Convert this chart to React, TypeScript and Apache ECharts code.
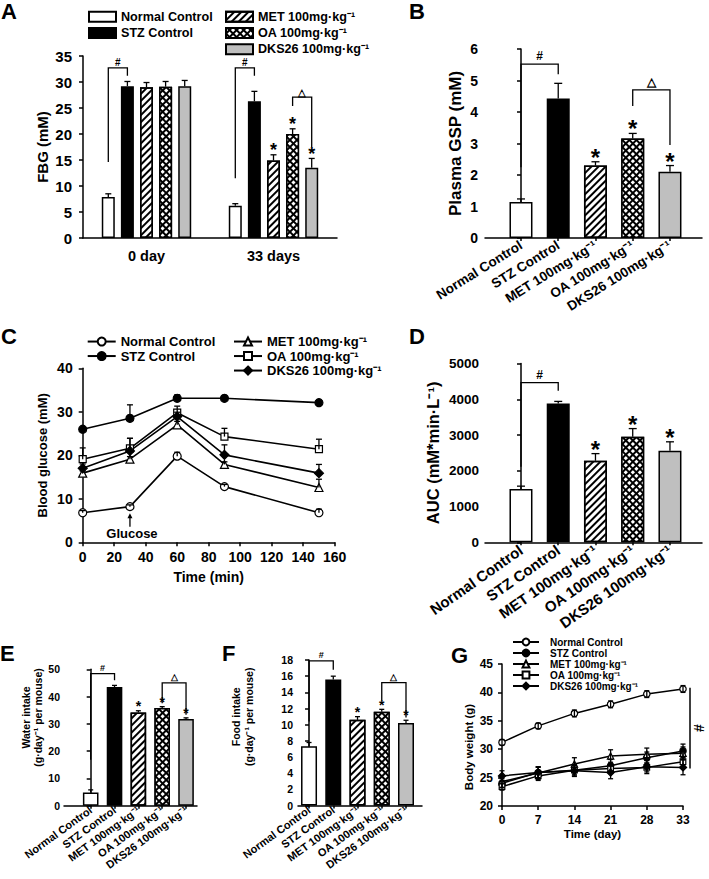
import React, { useEffect, useRef } from 'react';
import * as echarts from 'echarts';

const FONT = "'Liberation Sans', Arial, Helvetica, sans-serif";
const BLACK = '#000000';

// ---------- shared categories ----------
const groupNames = ['Normal Control', 'STZ Control', 'MET 100mg·kg⁻¹', 'OA 100mg·kg⁻¹', 'DKS26 100mg·kg⁻¹'];

// ---------- Panel A : FBG (mM) ----------
const aDays = ['0 day', '33 days'];
const aNormal = [7.9, 6.2];
const aSTZ = [29.2, 26.3];
const aMET = [29.0, 14.9];
const aOA = [29.1, 20.0];
const aDKS = [29.2, 13.5];
const aNormalErr = [0.6, 0.4];
const aSTZErr = [0.9, 1.9];
const aMETErr = [0.9, 1.1];
const aOAErr = [1.0, 1.0];
const aDKSErr = [1.1, 1.8];
const aStars = [[1, 2], [1, 3], [1, 4]]; // [day index, group index]
const aBrackets = [
  { base: 0, from: 0, to: 1, yFrom: 14.6, yTo: 31.2, yTop: 32.7, mark: '#' },
  { base: 1, from: 0, to: 1, yFrom: 11.5, yTo: 31.2, yTop: 32.7, mark: '#' },
  { base: 1, from: 3, to: 4, yFrom: 25.4, yTo: 17.5, yTop: 27.1, mark: '△' },
];

// ---------- Panel B : Plasma GSP (mM) ----------
const bGSP = [1.14, 4.43, 2.3, 3.16, 2.1];
const bErr = [0.1, 0.48, 0.12, 0.16, 0.2];
const bStars = [2, 3, 4];
const bBrackets = [
  { from: 0, to: 1, yFrom: 2.25, yTo: 5.2, yTop: 5.52, mark: '#' },
  { from: 3, to: 4, yFrom: 4.19, yTo: 2.95, yTop: 4.7, mark: '△' },
];

// ---------- Panel C : Blood glucose (mM) ----------
const cTimes = [0, 30, 60, 90, 150];
const cNormal = [6.8, 8.2, 19.8, 12.8, 6.8];
const cSTZ = [26.0, 28.5, 33.1, 33.1, 32.1];
const cMET = [15.9, 19.1, 27.0, 17.9, 12.6];
const cOA = [19.1, 21.6, 29.8, 24.3, 21.4];
const cDKS = [17.0, 21.0, 28.9, 20.1, 15.9];
const cNormalErr = [0.5, 0.4, 0.9, 0.5, 0.8];
const cSTZErr = [0, 3.1, 0.8, 0.6, 0.6];
const cMETErr = [0.5, 0.6, 0.8, 0.6, 1.9];
const cOAErr = [2.6, 2.3, 1.5, 1.9, 2.3];
const cDKSErr = [1.0, 2.9, 1.0, 2.3, 2.0];
const cGlucose = { time: 30, arrowFrom: 3.6, arrowTo: 6.7, textAt: 2.1, label: 'Glucose' };

// ---------- Panel D : AUC ----------
const dAUC = [1490, 3880, 2280, 2950, 2560];
const dErr = [80, 60, 200, 230, 250];
const dStars = [2, 3, 4];
const dBrackets = [{ from: 0, to: 1, yFrom: 2115, yTo: 4241, yTop: 4464, mark: '#' }];

// ---------- Panel E : Water intake ----------
const eWater = [4.8, 43.5, 34.2, 35.8, 31.8];
const eErr = [1.0, 0.6, 0.6, 0.5, 0.4];
const eStars = [2, 3, 4];
const eBrackets = [
  { from: 0, to: 1, yFrom: 16.8, yTo: 46.0, yTop: 48.4, mark: '#' },
  { from: 3, to: 4, yFrom: 37.6, yTo: 33.3, yTop: 45.0, mark: '△' },
];

// ---------- Panel F : Food intake ----------
const fFood = [7.35, 15.6, 10.6, 11.6, 10.2];
const fErr = [0.45, 0.4, 0.4, 0.3, 0.35];
const fStars = [2, 3, 4];
const fBrackets = [
  { from: 0, to: 1, yFrom: 10.4, yTo: 16.8, yTop: 17.9, mark: '#' },
  { from: 3, to: 4, yFrom: 13.0, yTo: 10.9, yTop: 15.2, mark: '△' },
];

// ---------- Panel G : Body weight ----------
const gDays = ['0', '7', '14', '21', '28', '33'];
const gNormal = [31.2, 34.1, 36.3, 37.9, 39.7, 40.6];
const gSTZ = [24.0, 25.9, 26.3, 27.1, 28.5, 29.7];
const gMET = [24.3, 25.8, 27.4, 28.8, 29.1, 29.3];
const gOA = [23.4, 25.3, 26.3, 26.6, 26.8, 27.8];
const gDKS = [25.3, 25.9, 26.2, 25.9, 26.9, 26.8];
const gNormalErr = [0.5, 0.5, 0.6, 0.6, 0.6, 0.6];
const gSTZErr = [0.8, 1.0, 1.0, 1.1, 1.0, 1.2];
const gMETErr = [1.0, 1.1, 1.1, 1.1, 1.1, 1.1];
const gOAErr = [0.6, 0.8, 0.8, 0.8, 0.8, 0.8];
const gDKSErr = [0.9, 0.9, 1.0, 1.1, 1.2, 1.3];
const gSignif = { day: 5, from: 26.6, to: 40.8, mark: '#' };

// ---------- styles & layout ----------
const barStyles: any[] = [
  { color: '#ffffff', borderColor: BLACK, borderWidth: 1.5 },
  { color: '#000000', borderColor: BLACK, borderWidth: 1.5 },
  {
    color: '#ffffff', borderColor: BLACK, borderWidth: 1.5,
    decal: { symbol: 'rect', symbolSize: 1, color: '#000000', dashArrayX: [1, 0], dashArrayY: [2, 3], rotation: -Math.PI / 4 },
  },
  {
    color: '#000000', borderColor: BLACK, borderWidth: 1.5,
    decal: { symbol: 'rect', symbolSize: 1, color: '#ffffff', dashArrayX: [3, 2], dashArrayY: [3, 2], rotation: Math.PI / 4 },
  },
  { color: '#bfbfbf', borderColor: BLACK, borderWidth: 1.5 },
];
const markers = [
  { symbol: 'circle', fill: '#ffffff', size: 8 },
  { symbol: 'circle', fill: '#000000', size: 8 },
  { symbol: 'triangle', fill: '#ffffff', size: 8 },
  { symbol: 'rect', fill: '#ffffff', size: 7 },
  { symbol: 'diamond', fill: '#000000', size: 9 },
];

const GRIDS = [
  { left: 83, top: 56, width: 254, height: 182 }, // A
  { left: 485, top: 49, width: 217, height: 189 }, // B
  { left: 82.7, top: 368.3, width: 252, height: 174 }, // C
  { left: 485, top: 363.5, width: 217, height: 178.8 }, // D
  { left: 64, top: 669.3, width: 133, height: 136.4 }, // E
  { left: 298, top: 660, width: 124, height: 145.6 }, // F
  { left: 502, top: 664, width: 181, height: 142 }, // G
];
const A_SLOT = 19.1;

const txt = (size: number) => ({ fontFamily: FONT, fontWeight: 'bold' as const, fontSize: size, color: BLACK });
const line15 = { color: BLACK, width: 1.5 };
const idx5 = [0, 1, 2, 3, 4];
const plain = (v: number) => String(v);

function yValue(grid: number, min: number, max: number, interval: number, labelSize: number, margin: number,
  name: string, nameSize: number, nameGap: number, nameLH?: number, namePad?: number[]) {
  return {
    type: 'value', gridIndex: grid, min, max, interval,
    axisLine: { show: true, lineStyle: line15 },
    axisTick: { show: true, inside: false, length: 4, lineStyle: line15 },
    axisLabel: { ...txt(labelSize), margin, formatter: plain },
    splitLine: { show: false },
    name, nameLocation: 'middle', nameRotate: 90, nameGap,
    nameTextStyle: { ...txt(nameSize), lineHeight: nameLH ?? Math.round(nameSize * 1.15), padding: namePad ?? 0 },
  };
}

function xGroups(grid: number, min: number, max: number, labelSize: number, rotate: number, margin: number) {
  return {
    type: 'value', gridIndex: grid, min, max,
    axisLine: { show: true, lineStyle: line15 },
    axisTick: { show: true, length: 3, lineStyle: line15, customValues: idx5 },
    axisLabel: {
      ...txt(labelSize), rotate, margin, customValues: idx5,
      formatter: (v: number) => groupNames[Math.round(v)] ?? '',
    },
    splitLine: { show: false },
  };
}

function errorSeries(grid: number, data: number[][], capHalf: number, symmetric: boolean, slotPx = 0) {
  return {
    type: 'custom', xAxisIndex: grid, yAxisIndex: grid, z: 4, silent: true, data,
    renderItem: (_p: any, api: any) => {
      const x = api.value(0), y = api.value(1), e = api.value(2);
      const dx = slotPx ? (api.value(3) - 2) * slotPx : 0;
      const top = api.coord([x, y + e]);
      const bot = api.coord([x, symmetric ? y - e : y]);
      const cx = top[0] + dx;
      const st = { stroke: BLACK, lineWidth: 1.3 };
      const ch: any[] = [
        { type: 'line', shape: { x1: cx, y1: bot[1], x2: cx, y2: top[1] }, style: st },
        { type: 'line', shape: { x1: cx - capHalf, y1: top[1], x2: cx + capHalf, y2: top[1] }, style: st },
      ];
      if (symmetric) ch.push({ type: 'line', shape: { x1: cx - capHalf, y1: bot[1], x2: cx + capHalf, y2: bot[1] }, style: st });
      return { type: 'group', children: ch };
    },
  };
}

function starSeries(grid: number, data: number[][], fontSize: number, gapPx: number, slotPx = 0) {
  return {
    type: 'custom', xAxisIndex: grid, yAxisIndex: grid, z: 5, silent: true, data,
    renderItem: (_p: any, api: any) => {
      const pt = api.coord([api.value(0), api.value(1)]);
      const dx = slotPx ? (api.value(2) - 2) * slotPx : 0;
      return {
        type: 'text', x: pt[0] + dx, y: pt[1] - gapPx,
        style: { text: '*', fill: BLACK, fontFamily: FONT, fontWeight: 'bold', fontSize, align: 'center', verticalAlign: 'middle' },
      };
    },
  };
}

function bracketSeries(grid: number, brackets: any[], markSize: number, markGap: number, slotPx = 0) {
  return {
    type: 'custom', xAxisIndex: grid, yAxisIndex: grid, z: 5, silent: true,
    data: brackets.map((b) => [slotPx ? b.base : b.from, b.yFrom, b.to, b.yTo, b.yTop]),
    renderItem: (p: any, api: any) => {
      const b = brackets[p.dataIndex];
      const xOf = (which: number) => {
        if (slotPx) return api.coord([b.base, 0])[0] + (which - 2) * slotPx;
        return api.coord([which, 0])[0];
      };
      const x1 = xOf(b.from), x2 = xOf(b.to);
      const yF = api.coord([b.from, b.yFrom])[1];
      const yT = api.coord([b.from, b.yTop])[1];
      const yE = api.coord([b.from, b.yTo])[1];
      return {
        type: 'group',
        children: [
          { type: 'polyline', shape: { points: [[x1, yF], [x1, yT], [x2, yT], [x2, yE]] }, style: { stroke: BLACK, lineWidth: 1.3, fill: null } },
          {
            type: 'text', x: (x1 + x2) / 2, y: yT - markGap,
            style: { text: b.mark, fill: BLACK, fontFamily: FONT, fontWeight: 'bold', fontSize: markSize, align: 'center', verticalAlign: 'middle' },
          },
        ],
      };
    },
  };
}

function groupBarSeries(grid: number, values: number[], errs: number[], stars: number[], barWidth: number,
  capHalf: number, starSize: number, starGap: number, brackets: any[], markSize: number, markGap: number) {
  return [
    {
      type: 'bar', name: 'panel' + grid, xAxisIndex: grid, yAxisIndex: grid, barWidth, z: 2, silent: true,
      data: values.map((v, i) => ({ value: [i, v], itemStyle: barStyles[i] })),
    },
    errorSeries(grid, values.map((v, i) => [i, v, errs[i]]), capHalf, false),
    starSeries(grid, stars.map((i) => [i, values[i] + errs[i]]), starSize, starGap),
    bracketSeries(grid, brackets, markSize, markGap),
  ];
}

function lineSeries(prefix: string, grid: number, xs: (number | string)[], arrays: number[][], width: number, sizeScale: number) {
  return arrays.map((arr, i) => ({
    type: 'line', name: prefix + groupNames[i], xAxisIndex: grid, yAxisIndex: grid, z: 3, silent: true,
    data: arr.map((v, k) => [typeof xs[k] === 'number' ? xs[k] : k, v]),
    symbol: markers[i].symbol, symbolSize: markers[i].size * sizeScale, showAllSymbol: true,
    lineStyle: { color: BLACK, width },
    itemStyle: { color: markers[i].fill, borderColor: BLACK, borderWidth: 1.2 },
  }));
}

function buildOption(): any {
  const aValues = [aNormal, aSTZ, aMET, aOA, aDKS];
  const aErrors = [aNormalErr, aSTZErr, aMETErr, aOAErr, aDKSErr];
  const cValues = [cNormal, cSTZ, cMET, cOA, cDKS];
  const cErrors = [cNormalErr, cSTZErr, cMETErr, cOAErr, cDKSErr];
  const gValues = [gNormal, gSTZ, gMET, gOA, gDKS];
  const gErrors = [gNormalErr, gSTZErr, gMETErr, gOAErr, gDKSErr];

  const letters = [
    ['A', 1, 0], ['B', 409, 0], ['C', 1, 325], ['D', 409, 325], ['E', 0, 642], ['F', 222, 642], ['G', 451, 644],
  ];

  const series: any[] = [];
  // A
  aValues.forEach((vals, i) => {
    series.push({
      type: 'bar', name: groupNames[i], xAxisIndex: 0, yAxisIndex: 0, data: vals, barWidth: 13, barGap: '47%',
      itemStyle: barStyles[i], z: 2, silent: true,
    });
  });
  const aErrData: number[][] = [];
  aValues.forEach((vals, i) => vals.forEach((v, d) => aErrData.push([d, v, aErrors[i][d], i])));
  series.push(errorSeries(0, aErrData, 3, false, A_SLOT));
  series.push(starSeries(0, aStars.map(([d, i]) => [d, aValues[i][d] + aErrors[i][d], i]), 18, 4.5, A_SLOT));
  series.push(bracketSeries(0, aBrackets, 10, 5, A_SLOT));
  // B
  series.push(...groupBarSeries(1, bGSP, bErr, bStars, 23, 4, 24, 4.5, bBrackets, 12, 8));
  // C
  series.push(errorSeries(2, cValues.flatMap((arr, i) => arr.map((v, k) => [cTimes[k], v, cErrors[i][k]])), 3, false));
  series.push(...lineSeries('C:', 2, cTimes, cValues, 1.6, 1));
  series.push({
    type: 'custom', xAxisIndex: 2, yAxisIndex: 2, z: 5, silent: true,
    data: [[cGlucose.time, cGlucose.arrowFrom, cGlucose.arrowTo, cGlucose.textAt]],
    renderItem: (_p: any, api: any) => {
      const a = api.coord([api.value(0), api.value(1)]);
      const b = api.coord([api.value(0), api.value(2)]);
      const t = api.coord([api.value(0), api.value(3)]);
      return {
        type: 'group',
        children: [
          { type: 'line', shape: { x1: a[0], y1: a[1], x2: b[0], y2: b[1] + 3 }, style: { stroke: BLACK, lineWidth: 1.3 } },
          { type: 'polygon', shape: { points: [[b[0], b[1]], [b[0] - 2.5, b[1] + 5], [b[0] + 2.5, b[1] + 5]] }, style: { fill: BLACK } },
          { type: 'text', x: t[0] + 2, y: t[1], style: { text: cGlucose.label, fill: BLACK, fontFamily: FONT, fontWeight: 'bold', fontSize: 13, align: 'center', verticalAlign: 'middle' } },
        ],
      };
    },
  });
  // D
  series.push(...groupBarSeries(3, dAUC, dErr, dStars, 23, 4, 24, 4.5, dBrackets, 12, 8));
  // E
  series.push(...groupBarSeries(4, eWater, eErr, eStars, 15.6, 2.5, 14, 4.8, eBrackets, 9, 6));
  // F
  series.push(...groupBarSeries(5, fFood, fErr, fStars, 16, 2.5, 14, 4.8, fBrackets, 9, 6));
  // G
  series.push(errorSeries(6, gValues.flatMap((arr, i) => arr.map((v, k) => [k, v, gErrors[i][k]])), 2.5, true));
  series.push(...lineSeries('G:', 6, gDays, gValues, 1.5, 0.8));
  series.push({
    type: 'custom', xAxisIndex: 6, yAxisIndex: 6, z: 5, silent: true,
    data: [[gSignif.day, gSignif.from, gSignif.to]],
    renderItem: (_p: any, api: any) => {
      const a = api.coord([api.value(0), api.value(1)]);
      const b = api.coord([api.value(0), api.value(2)]);
      const x = a[0] + 7;
      return {
        type: 'group',
        children: [
          { type: 'line', shape: { x1: x, y1: a[1], x2: x, y2: b[1] }, style: { stroke: BLACK, lineWidth: 1.5 } },
          {
            type: 'text', x: x + 9, y: (a[1] + b[1]) / 2, rotation: -Math.PI / 2,
            style: { text: gSignif.mark, fill: BLACK, fontFamily: FONT, fontWeight: 'bold', fontSize: 14, align: 'center', verticalAlign: 'middle' },
          },
        ],
      };
    },
  });

  const stripPrefix = (n: string) => n.slice(2);

  return {
    animation: false,
    backgroundColor: '#ffffff',
    textStyle: { fontFamily: FONT },
    grid: GRIDS.map((g) => ({ ...g, containLabel: false, outerBoundsMode: 'none' })),
    xAxis: [
      {
        type: 'category', gridIndex: 0, data: aDays,
        axisLine: { show: true, lineStyle: line15 }, axisTick: { show: false },
        axisLabel: { ...txt(14.5), margin: 10 }, splitLine: { show: false },
      },
      xGroups(1, -0.966, 4.86, 13.5, 32, 6),
      {
        type: 'value', gridIndex: 2, min: 0, max: 160, interval: 20,
        axisLine: { show: true, lineStyle: line15 }, axisTick: { show: true, length: 4, lineStyle: line15 },
        axisLabel: { ...txt(14), margin: 8, formatter: plain }, splitLine: { show: false },
        name: 'Time (min)', nameLocation: 'middle', nameGap: 28, nameTextStyle: txt(14),
      },
      xGroups(3, -0.966, 4.86, 15, 35, 6),
      xGroups(4, -1.12, 4.46, 11, 36, 3),
      xGroups(5, -0.455, 4.66, 11, 36, 3),
      {
        type: 'category', gridIndex: 6, data: gDays, boundaryGap: false,
        axisLine: { show: true, lineStyle: line15 }, axisTick: { show: true, length: 4, lineStyle: line15 },
        axisLabel: { ...txt(12), margin: 8 }, splitLine: { show: false },
        name: 'Time (day)', nameLocation: 'middle', nameGap: 22, nameTextStyle: txt(11.5),
      },
    ],
    yAxis: [
      yValue(0, 0, 35, 5, 15, 11, 'FBG (mM)', 15, 31),
      yValue(1, 0, 6, 1, 14, 7, 'Plasma GSP (mM)', 17, 20),
      yValue(2, 0, 40, 10, 14, 10, 'Blood glucose (mM)', 13, 33),
      yValue(3, 0, 5000, 1000, 13.5, 6, 'AUC (mM*min·L⁻¹)', 16.5, 42.5),
      yValue(4, 0, 50, 10, 10.5, 4, 'Water intake\n(g·day⁻¹ per mouse)', 10.5, 15, 12, [0, 0, 0, 40]),
      yValue(5, 0, 18, 2, 10.5, 5, 'Food intake\n(g·day⁻¹ per mouse)', 10.5, 43, 13, [0, 0, 0, 32]),
      yValue(6, 20, 45, 5, 12, 9, 'Body weight (g)', 11.5, 24, undefined, [0, 24, 0, 0]),
    ],
    legend: [
      {
        data: groupNames.slice(0, 2), left: 88, top: 9.7, orient: 'vertical', icon: 'rect', padding: 0,
        itemWidth: 27, itemHeight: 10, itemGap: 2.3, selectedMode: false,
        textStyle: { ...txt(12.6), lineHeight: 14 },
      },
      {
        data: groupNames.slice(2), left: 225, top: 9.7, orient: 'vertical', icon: 'rect', padding: 0,
        itemWidth: 27, itemHeight: 10, itemGap: 2.3, selectedMode: false,
        textStyle: { ...txt(12.6), lineHeight: 14 },
      },
      {
        data: groupNames.slice(0, 2).map((n) => 'C:' + n), left: 86.7, top: 334.3, orient: 'vertical', padding: 0,
        itemWidth: 28, itemHeight: 10, itemGap: 0, selectedMode: false, formatter: stripPrefix,
        textStyle: { ...txt(13), lineHeight: 14.5 },
      },
      {
        data: groupNames.slice(2).map((n) => 'C:' + n), left: 233, top: 334.3, orient: 'vertical', padding: 0,
        itemWidth: 28, itemHeight: 10, itemGap: 0, selectedMode: false, formatter: stripPrefix,
        textStyle: { ...txt(13), lineHeight: 14.5 },
      },
      {
        data: groupNames.map((n) => 'G:' + n), left: 512, top: 636.5, orient: 'vertical', padding: 0,
        itemWidth: 26, itemHeight: 8.5, itemGap: 0, selectedMode: false, formatter: stripPrefix,
        textStyle: { ...txt(10), lineHeight: 11, padding: [0, 0, 0, 6] },
      },
    ],
    graphic: letters.map(([t, x, y]) => ({
      type: 'text', left: x as number, top: y as number, silent: true,
      style: { text: t as string, fill: BLACK, fontFamily: FONT, fontWeight: 'bold', fontSize: 22 },
    })),
    series,
  };
}

export default function App() {
  const ref = useRef<HTMLDivElement>(null);
  useEffect(() => {
    if (!ref.current) return;
    const chart = echarts.init(ref.current, undefined, { renderer: 'svg' });
    chart.setOption(buildOption());
    return () => chart.dispose();
  }, []);
  return (
    <div
      ref={ref}
      style={{ position: 'absolute', left: 0, top: 0, width: 709, height: 879, background: '#ffffff' }}
    />
  );
}
